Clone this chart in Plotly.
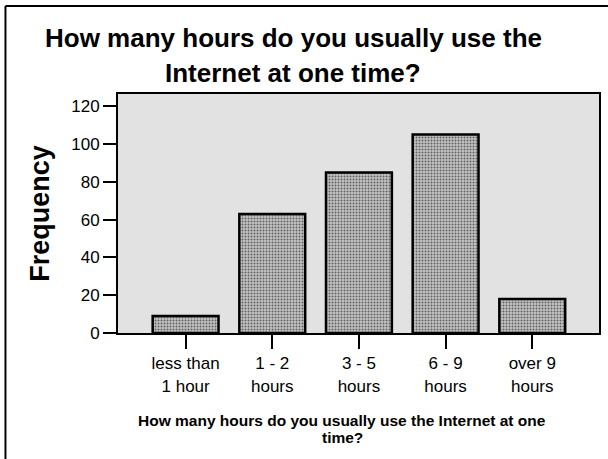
import plotly.graph_objects as go

# Survey responses: hours per Internet session
categories = ["less than<br>1 hour", "1 - 2<br>hours", "3 - 5<br>hours", "6 - 9<br>hours", "over 9<br>hours"]
frequency = [9, 63, 85, 105, 18]
y_ticks = [0, 20, 40, 60, 80, 100, 120]

title_lines = ["How many hours do you usually use the", "Internet at one time?"]
xtitle_lines = ["How many hours do you usually use the Internet at one", "time?"]

W, H = 608, 459
L, R, T, B = 118, 7, 94, 126
pw, ph = W - L - R, H - T - B


def px_x(px):
    return (px - L) / pw


def px_y(py):
    return (H - B - py) / ph


fig = go.Figure(
    go.Bar(
        x=list(range(len(categories))),
        y=frequency,
        width=0.76,
        marker=dict(
            color="#bdbdbd",
            line=dict(color="black", width=2.5),
            pattern=dict(shape=".", fgcolor="#606060", bgcolor="#c4c4c4",
                         size=3, solidity=0.35, fillmode="replace"),
        ),
    )
)

font = "Liberation Sans, Arial, Helvetica, sans-serif"

annotations = []
# chart title, one annotation per line
for text, yc in zip(title_lines, [38, 73]):
    annotations.append(dict(
        text=f"<b>{text}</b>", xref="paper", yref="paper",
        x=px_x(294), y=px_y(yc), xanchor="center", yanchor="middle",
        showarrow=False, font=dict(size=26, family=font, color="black"),
    ))
# x-axis title, one annotation per line
for text, yc in zip(xtitle_lines, [420, 437]):
    annotations.append(dict(
        text=f"<b>{text}</b>", xref="paper", yref="paper",
        x=px_x(343), y=px_y(yc), xanchor="center", yanchor="middle",
        showarrow=False, font=dict(size=15.5, family=font, color="black"),
    ))

fig.update_layout(
    width=W,
    height=H,
    margin=dict(l=L, r=R, t=T, b=B),
    paper_bgcolor="white",
    plot_bgcolor="#e2e2e2",
    showlegend=False,
    font=dict(family=font, color="black"),
    xaxis=dict(
        range=[-0.78, 4.77],
        tickmode="array",
        tickvals=list(range(len(categories))),
        ticktext=categories,
        ticks="outside",
        ticklen=14,
        tickwidth=2,
        tickcolor="black",
        tickfont=dict(size=17),
        showline=True,
        linecolor="black",
        linewidth=2,
        mirror=True,
        showgrid=False,
        zeroline=False,
    ),
    yaxis=dict(
        range=[0, 126.5],
        tickmode="array",
        tickvals=y_ticks,
        ticks="outside",
        ticklen=13,
        tickwidth=2,
        tickcolor="black",
        tickfont=dict(size=17),
        showline=True,
        linecolor="black",
        linewidth=2,
        mirror=True,
        showgrid=False,
        zeroline=False,
        title=dict(text="<b>Frequency</b>", font=dict(size=27), standoff=14),
    ),
    annotations=annotations,
    shapes=[
        # frame around the figure (left and top edges)
        dict(type="line", xref="paper", yref="paper",
             x0=px_x(5), x1=px_x(5), y0=px_y(6), y1=px_y(H + 2),
             line=dict(color="black", width=2)),
        dict(type="line", xref="paper", yref="paper",
             x0=px_x(5), x1=px_x(W + 2), y0=px_y(6), y1=px_y(6),
             line=dict(color="black", width=2)),
    ],
)

fig.write_html("out.html")
